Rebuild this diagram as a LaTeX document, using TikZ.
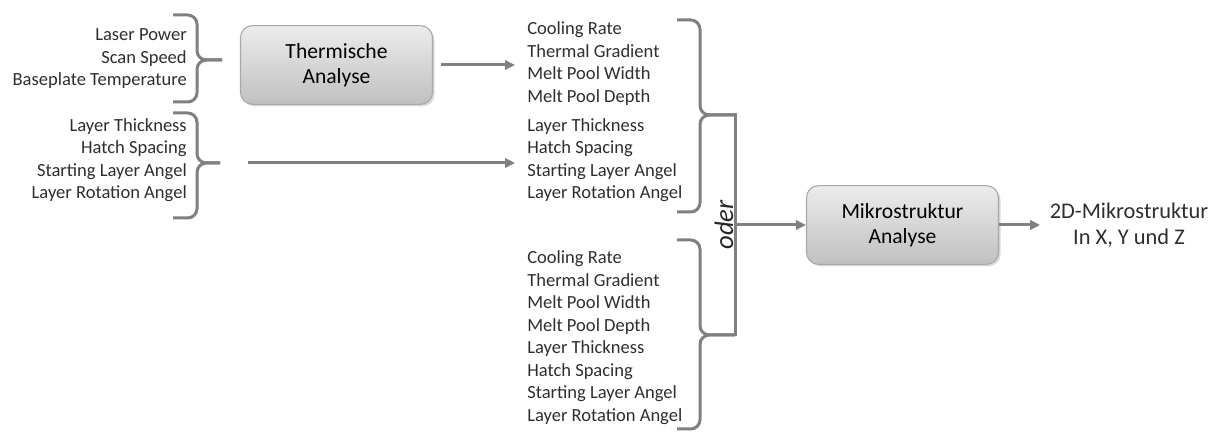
\documentclass[tikz,border=0pt]{standalone}
\usepackage{fontspec}
\setmainfont{Carlito}
\usetikzlibrary{arrows.meta,shadows}
\definecolor{liniengrau}{RGB}{128,128,128}
\definecolor{boxoben}{RGB}{236,236,236}
\definecolor{boxunten}{RGB}{192,192,192}
\definecolor{boxrand}{RGB}{168,168,168}
\tikzset{
  liste/.style={inner sep=0pt, font=\fontsize{13.9}{16.9}\selectfont, text=black!82},
  analyse/.style={draw=boxrand, line width=0.8pt, rounded corners=9pt,
    top color=boxoben, bottom color=boxunten, minimum width=144pt, minimum height=59pt,
    align=center, font=\fontsize{16.2}{19}\selectfont, text=black,
    drop shadow={opacity=0.3, shadow xshift=1.5pt, shadow yshift=-1.5pt}},
  klammer/.style={draw=liniengrau, line width=2.25pt, rounded corners=7pt},
  pfeil/.style={draw=liniengrau, line width=2.25pt, -{Triangle[length=7.5pt,width=7pt]}},
}
\begin{document}
\begin{tikzpicture}[x=0.75pt,y=-0.75pt]
    \useasboundingbox (0,0) rectangle (1211,434);
    % Eingaben links
    \node[liste, anchor=east, align=right] (prozess) at (187,59) {Laser Power\\Scan Speed\\Baseplate Temperature};
    \node[liste, anchor=east, align=right] (strategie) at (187,160) {Layer Thickness\\Hatch Spacing\\Starting Layer Angel\\Layer Rotation Angel};
    \draw[klammer] (173,15) -- (197,15) -- (197,60) -- (222,60);
    \draw[klammer] (222,60) -- (197,60) -- (197,102) -- (173,102);
    \draw[klammer] (173,113) -- (197,113) -- (197,163) -- (220,163);
    \draw[klammer] (220,163) -- (197,163) -- (197,218) -- (173,218);
    % Analysen
    \node[analyse] (thermisch) at (336.5,65) {Thermische\\Analyse};
    \node[analyse] (mikro) at (902.5,225) {Mikrostruktur\\Analyse};
    % Zwischengroessen
    \node[liste, anchor=west, align=left] (thermo) at (527,63.5) {Cooling Rate\\Thermal Gradient\\Melt Pool Width\\Melt Pool Depth};
    \node[liste, anchor=west, align=left] (schicht) at (527,160) {Layer Thickness\\Hatch Spacing\\Starting Layer Angel\\Layer Rotation Angel};
    \node[liste, anchor=west, align=left] (alle) at (527,337.5) {Cooling Rate\\Thermal Gradient\\Melt Pool Width\\Melt Pool Depth\\Layer Thickness\\Hatch Spacing\\Starting Layer Angel\\Layer Rotation Angel};
    \coordinate (spitzeA) at (735,115);
    \coordinate (spitzeB) at (735,335);
    \coordinate (gabel) at (735,225);
    \coordinate (start2) at (248,163);
    \draw[klammer] (677,20) -- (700,20) -- (700,115) -- (spitzeA);
    \draw[klammer] (spitzeA) -- (700,115) -- (700,212) -- (677,212);
    \draw[klammer] (677,240) -- (700,240) -- (700,335) -- (spitzeB);
    \draw[klammer] (spitzeB) -- (700,335) -- (700,429) -- (677,429);
    \draw[klammer, line cap=rect] (spitzeA) -- (spitzeB);
    \node[rotate=90, inner sep=0pt, font=\fontsize{20}{24}\selectfont\itshape, text=black!85] (oder) at (724,225) {oder};
    % Ausgabe
    \node[liste, align=center, font=\fontsize{16.8}{19.5}\selectfont] (ausgabe) at (1129,225) {2D-Mikrostruktur\\In X, Y und Z};
    % Pfeile
    \draw[pfeil, shorten <=6pt, shorten >=9pt] (thermisch.east) -- (thermisch.east -| thermo.west);
    \draw[pfeil, shorten >=9pt] (start2) -- (start2 -| schicht.west);
    \draw[pfeil] (gabel) -- (mikro.west);
    \draw[pfeil, shorten >=7pt] (mikro.east) -- (mikro.east -| ausgabe.west);
\end{tikzpicture}
\end{document}
